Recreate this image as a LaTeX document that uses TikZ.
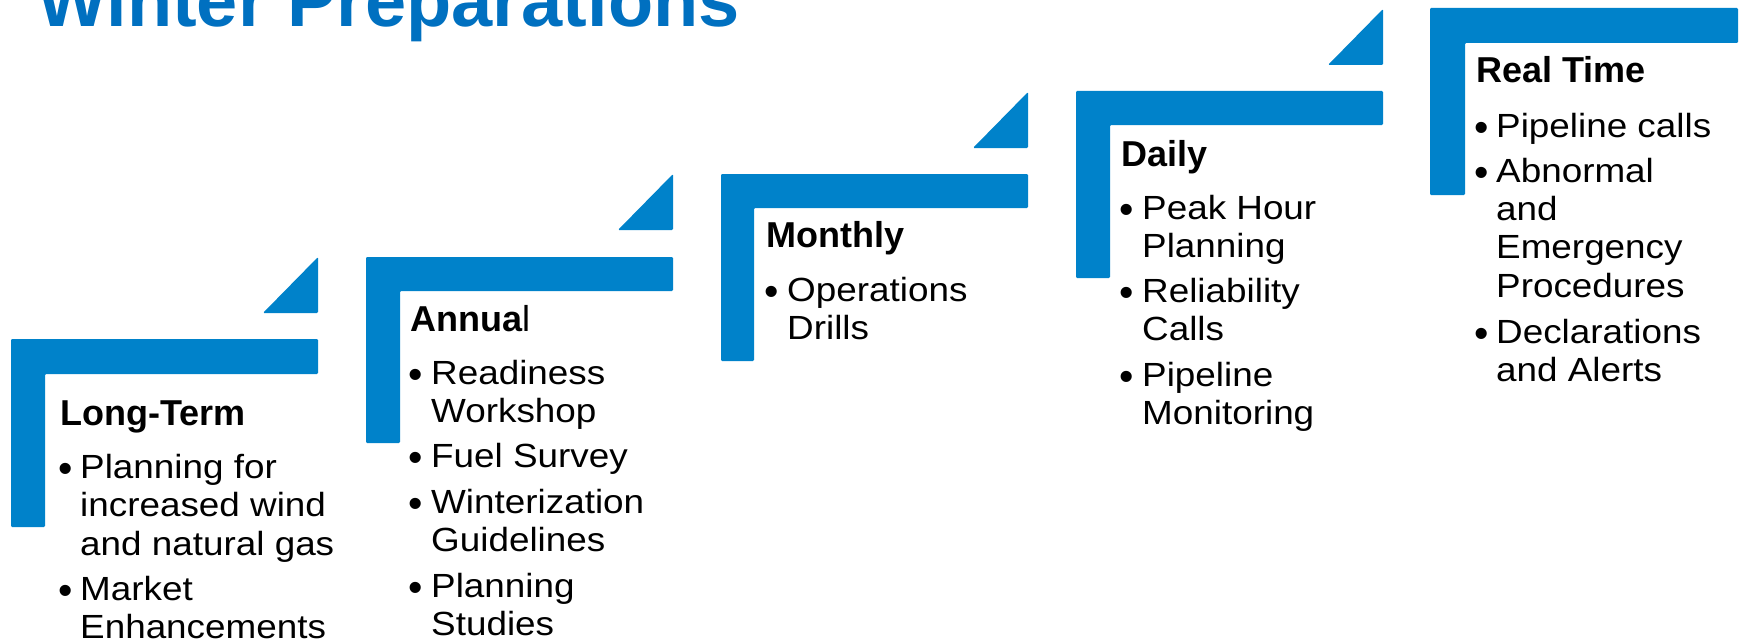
\documentclass[tikz,border=0pt]{standalone}
\usepackage{fontspec}
\setmainfont{Liberation Sans}
\newfontfamily\bodyfamily{Liberation Sans}[FakeStretch=1.1]
\definecolor{barblue}{RGB}{0,130,202}
\definecolor{titleblue}{RGB}{0,112,192}
\newcommand\headfnt{\fontsize{36}{40}\selectfont\bfseries}
\newcommand\bodyfnt{\bodyfamily\fontsize{33.5}{38.5}\selectfont}
\newcommand\dotfnt{\fontsize{41}{45}\selectfont}
\newcommand\titlefnt{\fontsize{74}{80}\selectfont\bfseries}
\newcommand\stack[1]{\vtop{\halign{##\hfil\cr#1\crcr}}}
\begin{document}
\begin{tikzpicture}[x=1pt,y=-1pt,
  band/.style={fill=barblue, draw=none, rounded corners=1.2pt},
  maintitle/.style={anchor=base west, inner sep=0, font=\titlefnt, text=titleblue},
  head/.style={anchor=base west, inner sep=0, font=\headfnt},
  item/.style={anchor=base west, inner sep=0, font=\bodyfnt},
  dot/.style={anchor=base, inner sep=0, font=\dotfnt, yshift=-4pt}]
\useasboundingbox (0,0) rectangle (1741,642);
\node[maintitle] (title) at (37,27) {Winter Preparations};

% Long-Term
\fill[band] (11,339) -- (318,339) -- (318,374) -- (45,374) -- (45,527) -- (11,527) -- cycle;
\fill[band] (318,257) -- (318,313) -- (263,313) -- cycle;
\node[head] (lt-h) at (60,425) {Long-Term};
\node[dot] (lt-d1) at (66,478) {•};
\node[item] (lt-1) at (80,478) {\stack{Planning for\cr increased wind\cr and natural gas}};
\node[dot] (lt-d2) at (66,600) {•};
\node[item] (lt-2) at (80,600) {\stack{Market\cr Enhancements}};

% Annual
\fill[band] (366,257) -- (673,257) -- (673,291) -- (400,291) -- (400,443) -- (366,443) -- cycle;
\fill[band] (673,174) -- (673,230) -- (618,230) -- cycle;
\node[head] (an-h) at (410,331) {Annua{\mdseries l}};
\node[dot] (an-d1) at (416,384) {•};
\node[item] (an-1) at (431,384) {\stack{Readiness\cr Workshop}};
\node[dot] (an-d2) at (416,467) {•};
\node[item] (an-2) at (431,467) {Fuel Survey};
\node[dot] (an-d3) at (416,513) {•};
\node[item] (an-3) at (431,513) {\stack{Winterization\cr Guidelines}};
\node[dot] (an-d4) at (416,597) {•};
\node[item] (an-4) at (431,597) {\stack{Planning\cr Studies}};

% Monthly
\fill[band] (721,174) -- (1028,174) -- (1028,208) -- (754,208) -- (754,361) -- (721,361) -- cycle;
\fill[band] (1028,92) -- (1028,148) -- (973,148) -- cycle;
\node[head] (mo-h) at (766,247) {Monthly};
\node[dot] (mo-d1) at (772,301) {•};
\node[item] (mo-1) at (787,301) {\stack{Operations\cr Drills}};

% Daily
\fill[band] (1076,91) -- (1383,91) -- (1383,125) -- (1110,125) -- (1110,278) -- (1076,278) -- cycle;
\fill[band] (1383,9) -- (1383,65) -- (1328,65) -- cycle;
\node[head] (da-h) at (1121,166) {Daily};
\node[dot] (da-d1) at (1127,219) {•};
\node[item] (da-1) at (1142,219) {\stack{Peak Hour\cr Planning}};
\node[dot] (da-d2) at (1127,302) {•};
\node[item] (da-2) at (1142,302) {\stack{Reliability\cr Calls}};
\node[dot] (da-d3) at (1127,386) {•};
\node[item] (da-3) at (1142,386) {\stack{Pipeline\cr Monitoring}};

% Real Time
\fill[band] (1430,8) -- (1738,8) -- (1738,43) -- (1465,43) -- (1465,195) -- (1430,195) -- cycle;
\node[head] (rt-h) at (1476,82) {Real Time};
\node[dot] (rt-d1) at (1482,137) {•};
\node[item] (rt-1) at (1496,137) {Pipeline calls};
\node[dot] (rt-d2) at (1482,182) {•};
\node[item] (rt-2) at (1496,182) {\stack{Abnormal\cr and\cr Emergency\cr Procedures}};
\node[dot] (rt-d3) at (1482,343) {•};
\node[item] (rt-3) at (1496,343) {\stack{Declarations\cr and Alerts}};
\end{tikzpicture}
\end{document}
